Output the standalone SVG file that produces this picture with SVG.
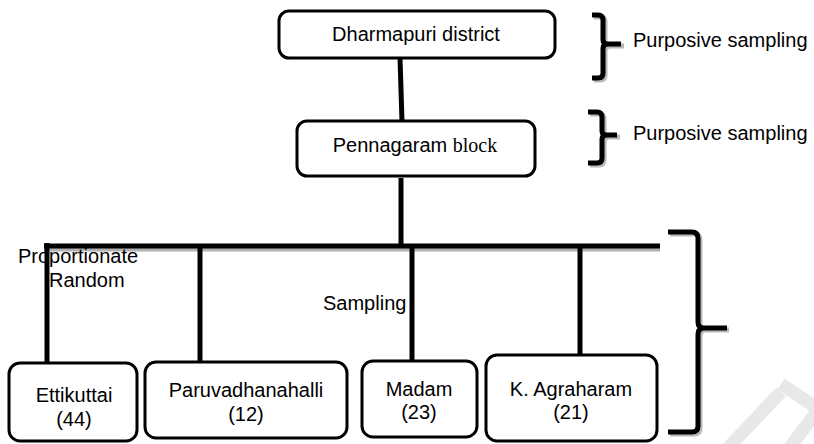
<svg xmlns="http://www.w3.org/2000/svg" width="814" height="444" viewBox="0 0 814 444">
<style>
.box{fill:#fff;stroke:#000;stroke-width:3}
.t{font-family:"Liberation Sans",Arial,sans-serif;font-size:20px;fill:#000}
.c{text-anchor:middle}
.ln{stroke:#000;stroke-width:5;fill:none}
.sh{stroke:#b0b0b0;stroke-width:5;fill:none}
.br{stroke:#000;stroke-width:5;fill:none;stroke-linejoin:round}
.brs{stroke:#b8b8b8;stroke-width:5;fill:none;stroke-linejoin:round}
.wm{stroke:#e8e8e8;stroke-width:13;fill:none}
</style>
<g id="watermark">
<line class="wm" x1="781" y1="384" x2="820" y2="410"/>
<line class="wm" x1="781" y1="392" x2="726" y2="450"/>
<line class="wm" x1="818" y1="410" x2="788" y2="450"/>
</g>
<g id="connectors">
<line class="sh" x1="44" y1="249" x2="660" y2="249"/>
<line class="ln" x1="400" y1="58" x2="402" y2="121"/>
<line class="ln" x1="401" y1="178" x2="401" y2="246"/>
<line class="ln" x1="44" y1="246" x2="660" y2="246"/>
<line class="ln" x1="47" y1="243" x2="47" y2="363"/>
<line class="ln" x1="200" y1="246" x2="200" y2="362"/>
<line class="ln" x1="412" y1="246" x2="412" y2="361"/>
<line class="ln" x1="580" y1="246" x2="580" y2="355"/>
</g>
<g id="braces">
<path class="brs" d="M594,17 L600,17 Q605,17 605,22 L605,42 Q605,46 610,46 L624,46 M610,46 Q605,46 605,50 L605,75 Q605,80 600,80 L594,80"/>
<path class="br" d="M592,15 L598,15 Q603,15 603,20 L603,40 Q603,44 608,44 L621,44 M608,44 Q603,44 603,48 L603,73 Q603,78 598,78 L592,78"/>
<path class="brs" d="M590,114 L599,114 Q604,114 604,119 L604,133 Q604,137 609,137 L620,137 M609,137 Q604,137 604,141 L604,160 Q604,165 599,165 L590,165"/>
<path class="br" d="M588,112 L597,112 Q602,112 602,117 L602,131 Q602,135 607,135 L617,135 M607,135 Q602,135 602,139 L602,158 Q602,163 597,163 L588,163"/>
<path class="brs" d="M670,234 L694,234 Q700,234 700,240 L700,324 Q700,330 706,330 L729,330 M706,330 Q700,330 700,336 L700,428 Q700,434 694,434 L670,434"/>
<path class="br" d="M668,232 L692,232 Q698,232 698,238 L698,322 Q698,328 704,328 L727,328 M704,328 Q698,328 698,334 L698,426 Q698,432 692,432 L668,432"/>
</g>
<g id="n-dharmapuri">
<rect class="box" x="279" y="11" width="276" height="47" rx="10"/>
<text class="t c" x="416" y="41">Dharmapuri district</text>
</g>
<g id="n-pennagaram">
<rect class="box" x="297" y="121" width="238" height="55" rx="10"/>
<text class="t c" x="415" y="152">Pennagaram <tspan font-family="'Liberation Serif','Times New Roman',serif">block</tspan></text>
</g>
<g id="n-ettikuttai">
<rect class="box" x="9" y="363" width="128" height="78" rx="11"/>
<text class="t c" x="74" y="402">Ettikuttai</text>
<text class="t c" x="74" y="426">(44)</text>
</g>
<g id="n-paruvadhanahalli">
<rect class="box" x="145" y="362" width="202" height="76" rx="11"/>
<text class="t c" x="246" y="397">Paruvadhanahalli</text>
<text class="t c" x="246" y="421">(12)</text>
</g>
<g id="n-madam">
<rect class="box" x="362" y="361" width="115" height="76" rx="11"/>
<text class="t c" x="419" y="396">Madam</text>
<text class="t c" x="419" y="419">(23)</text>
</g>
<g id="n-agraharam">
<rect class="box" x="486" y="355" width="171" height="86" rx="11"/>
<text class="t c" x="571" y="396">K. Agraharam</text>
<text class="t c" x="571" y="419">(21)</text>
</g>
<g id="labels">
<text class="t" x="633" y="47">Purposive sampling</text>
<text class="t" x="633" y="140">Purposive sampling</text>
<text class="t" x="18" y="263">Proportionate</text>
<text class="t" x="49" y="287">Random</text>
<text class="t" x="323" y="310">Sampling</text>
</g>
</svg>
